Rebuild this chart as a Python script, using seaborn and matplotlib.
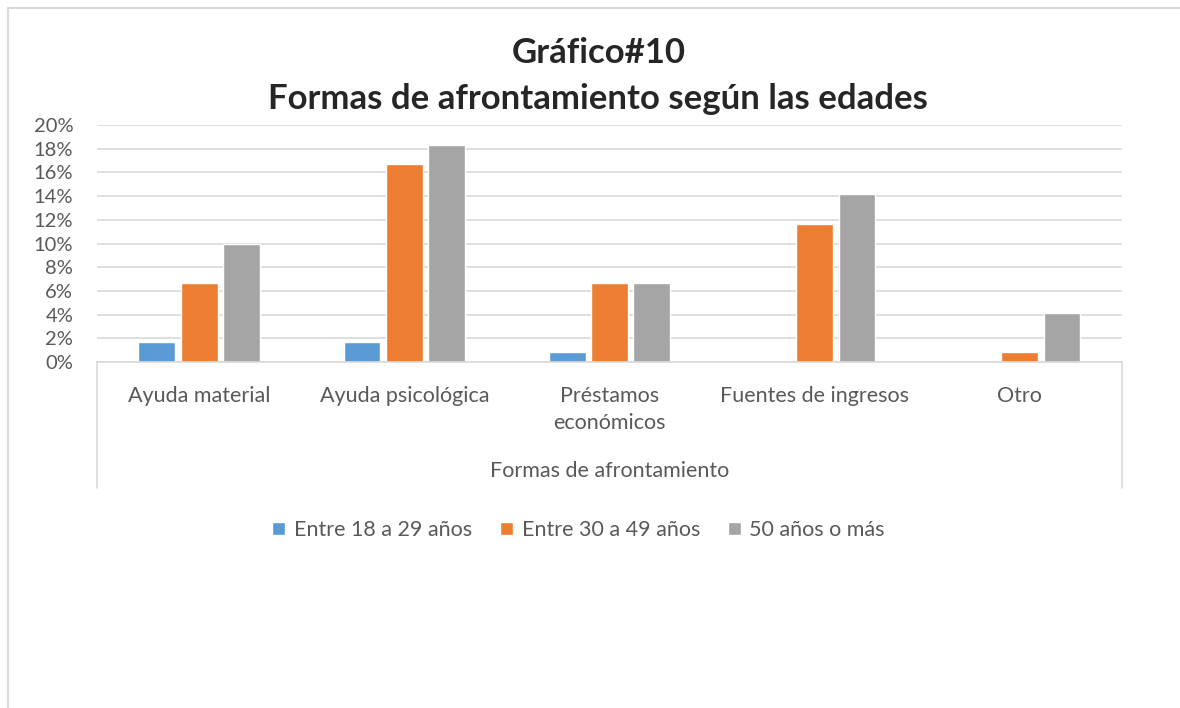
import pandas as pd
import matplotlib.pyplot as plt
import seaborn as sns
from matplotlib.patches import Rectangle
from matplotlib.lines import Line2D
from matplotlib.ticker import PercentFormatter

# Data
categorias = ["Ayuda material", "Ayuda psicológica", "Préstamos\neconómicos",
              "Fuentes de ingresos", "Otro"]
grupos = ["Entre 18 a 29 años", "Entre 30 a 49 años", "50 años o más"]
entre_18_29 = [1.67, 1.67, 0.83, 0.0, 0.0]
entre_30_49 = [6.67, 16.67, 6.67, 11.67, 0.83]
cincuenta_mas = [10.0, 18.33, 6.67, 14.17, 4.17]
colores = ["#5B9BD5", "#ED7D31", "#A5A5A5"]

df = pd.DataFrame({
    "Forma": categorias * 3,
    "Edad": [grupos[0]] * 5 + [grupos[1]] * 5 + [grupos[2]] * 5,
    "Porcentaje": entre_18_29 + entre_30_49 + cincuenta_mas,
})

sns.set_style("white")
plt.rcParams["font.family"] = ["Lato", "DejaVu Sans"]

fig = plt.figure(figsize=(11.8, 7.08), dpi=100)
ax = fig.add_axes([0.082, 0.4887, 0.869, 0.3347])

sns.barplot(data=df, x="Forma", y="Porcentaje", hue="Edad",
            palette=colores, width=0.62, gap=0.13, ax=ax,
            saturation=1, legend=True)

ax.set_ylim(0, 20)
ax.set_yticks(range(0, 21, 2))
ax.yaxis.set_major_formatter(PercentFormatter(decimals=0))
ax.grid(axis="y", color="#D9D9D9", linewidth=1.2)
ax.set_axisbelow(True)
for s in ["top", "right", "left"]:
    ax.spines[s].set_visible(False)
ax.spines["bottom"].set_color("#D9D9D9")
ax.spines["bottom"].set_linewidth(1.2)
ax.tick_params(axis="y", length=0, labelsize=14.5, colors="#595959", pad=17)
ax.tick_params(axis="x", length=0, labelsize=15.5, colors="#595959", pad=17)
for lbl in ax.get_xticklabels():
    lbl.set_linespacing(1.45)
ax.set_ylabel("")
ax.set_xlabel("Formas de afrontamiento", fontsize=15.5, color="#595959", labelpad=20)

# category box lines below the axis
for xf in [0, 1]:
    ax.add_line(Line2D([xf, xf], [0, -0.53], transform=ax.transAxes,
                       color="#D9D9D9", linewidth=1.2, clip_on=False))

ax.legend(loc="upper center", bbox_to_anchor=(0.47, -0.585), ncol=3,
          frameon=False, fontsize=15.5, labelcolor="#595959",
          handlelength=0.6, handleheight=0.6, handletextpad=0.4,
          columnspacing=1.3)

fig.suptitle("Gráfico#10\nFormas de afrontamiento según las edades",
             fontsize=25, fontweight="bold", y=0.948, x=0.507, linespacing=1.55)

fig.patches.append(Rectangle((8 / 1180, -0.01), 1.0, 1 - 8 / 708 + 0.01,
                             transform=fig.transFigure, fill=False,
                             edgecolor="#D9D9D9", linewidth=1.5))

plt.savefig("out.png", dpi=100)
